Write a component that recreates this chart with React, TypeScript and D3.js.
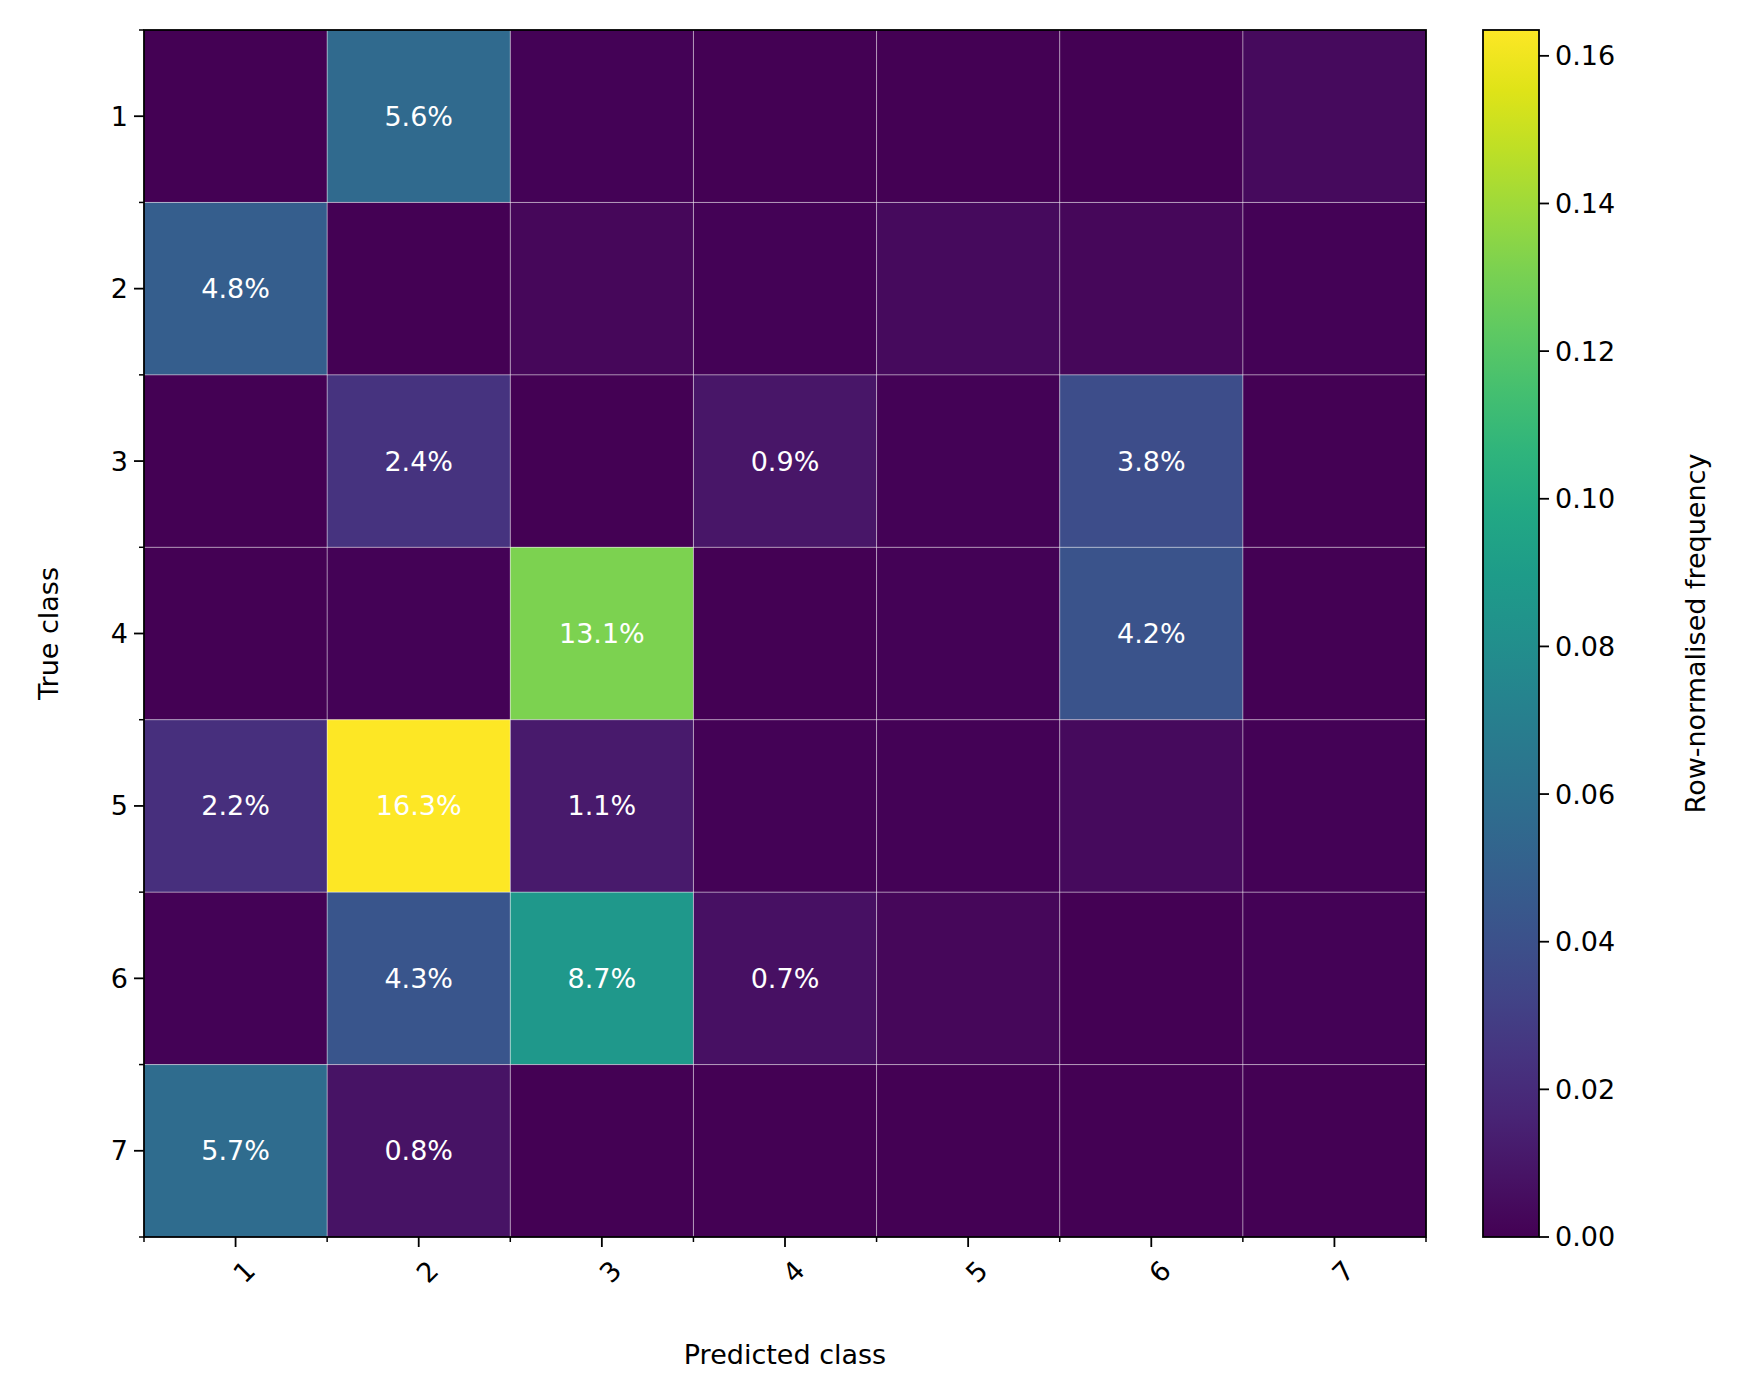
import * as d3 from "d3";

const classes = ["1", "2", "3", "4", "5", "6", "7"];
// rows = true class, columns = predicted class (row-normalised frequency)
const matrix = [
  [0, 0.056, 0.001, 0.0, 0.0, 0.0, 0.004],
  [0.048, 0, 0.003, 0.001, 0.004, 0.003, 0.001],
  [0.0, 0.024, 0, 0.009, 0.001, 0.038, 0.0],
  [0.0, 0.001, 0.131, 0, 0.001, 0.042, 0.0],
  [0.022, 0.163, 0.011, 0.001, 0.001, 0.004, 0.001],
  [0.001, 0.043, 0.087, 0.007, 0.003, 0.0, 0.001],
  [0.057, 0.008, 0.0, 0.0, 0.0, 0.0, 0.0],
];
const cbTicks = [0, 0.02, 0.04, 0.06, 0.08, 0.1, 0.12, 0.14, 0.16];
const vmax = 0.1635;

const W = 1746, H = 1397;
const L = 144, R = 1426, T = 30, B = 1237;
const cbL = 1483, cbR = 1539;
const font = "DejaVu Sans";
const fs = 27;

export default function App() {
  const x = d3.scaleBand().domain(classes).range([L, R]);
  const y = d3.scaleBand().domain(classes).range([T, B]);
  const color = d3.scaleSequential(d3.interpolateViridis).domain([0, vmax]);
  const cy = d3.scaleLinear().domain([0, vmax]).range([B, T]);
  const stops = d3.range(0, 1.0001, 0.05);
  const edges = d3.range(0, classes.length + 1).map((i) => L + i * x.bandwidth());
  const yEdges = d3.range(0, classes.length + 1).map((i) => T + i * y.bandwidth());

  return (
    <svg width={W} height={H} style={{ display: "block", margin: -8 }} fontFamily={font}>
      <defs>
        <linearGradient id="cb" x1="0" y1="1" x2="0" y2="0">
          {stops.map((s) => (
            <stop key={s} offset={s} stopColor={color(s * vmax)} />
          ))}
        </linearGradient>
      </defs>
      {matrix.map((row, i) =>
        row.map((v, j) => (
          <g key={`${i}-${j}`}>
            <rect x={x(classes[j])} y={y(classes[i])} width={x.bandwidth()} height={y.bandwidth()} fill={color(v)} />
            {v >= 0.005 && (
              <text x={x(classes[j])! + x.bandwidth() / 2} y={y(classes[i])! + y.bandwidth() / 2} dy="0.35em"
                textAnchor="middle" fill="white" fontSize={fs}>
                {(v * 100).toFixed(1)}%
              </text>
            )}
          </g>
        ))
      )}
      {edges.slice(1, -1).map((e) => (
        <line key={"v" + e} x1={e} x2={e} y1={T} y2={B} stroke="white" strokeOpacity={0.6} strokeWidth={0.8} />
      ))}
      {yEdges.slice(1, -1).map((e) => (
        <line key={"h" + e} x1={L} x2={R} y1={e} y2={e} stroke="white" strokeOpacity={0.6} strokeWidth={0.8} />
      ))}
      <rect x={L} y={T} width={R - L} height={B - T} fill="none" stroke="black" strokeWidth={1.8} />
      {/* minor ticks at cell edges */}
      {edges.map((e) => (
        <line key={"mx" + e} x1={e} x2={e} y1={B} y2={B + 5} stroke="black" strokeWidth={1.5} />
      ))}
      {yEdges.map((e) => (
        <line key={"my" + e} x1={L} x2={L - 5} y1={e} y2={e} stroke="black" strokeWidth={1.5} />
      ))}
      {classes.map((c) => {
        const cx = x(c)! + x.bandwidth() / 2;
        const yy = y(c)! + y.bandwidth() / 2;
        return (
          <g key={"t" + c}>
            <line x1={cx} x2={cx} y1={B} y2={B + 10} stroke="black" strokeWidth={1.8} />
            <text transform={`translate(${cx + 8},${B + 22}) rotate(-45)`} textAnchor="end" dy="0.7em" fontSize={fs}>{c}</text>
            <line x1={L} x2={L - 10} y1={yy} y2={yy} stroke="black" strokeWidth={1.8} />
            <text x={L - 16} y={yy} dy="0.35em" textAnchor="end" fontSize={fs}>{c}</text>
          </g>
        );
      })}
      <text x={(L + R) / 2} y={1364} textAnchor="middle" fontSize={fs}>Predicted class</text>
      <text transform={`translate(58,${(T + B) / 2}) rotate(-90)`} textAnchor="middle" fontSize={fs}>True class</text>
      <rect x={cbL} y={T} width={cbR - cbL} height={B - T} fill="url(#cb)" stroke="black" strokeWidth={1.8} />
      {cbTicks.map((t) => (
        <g key={"cb" + t}>
          <line x1={cbR} x2={cbR + 10} y1={cy(t)} y2={cy(t)} stroke="black" strokeWidth={1.8} />
          <text x={cbR + 16} y={cy(t)} dy="0.35em" fontSize={fs}>{t.toFixed(2)}</text>
        </g>
      ))}
      <text transform={`translate(1705,${(T + B) / 2}) rotate(-90)`} textAnchor="middle" fontSize={fs}>Row-normalised frequency</text>
    </svg>
  );
}
